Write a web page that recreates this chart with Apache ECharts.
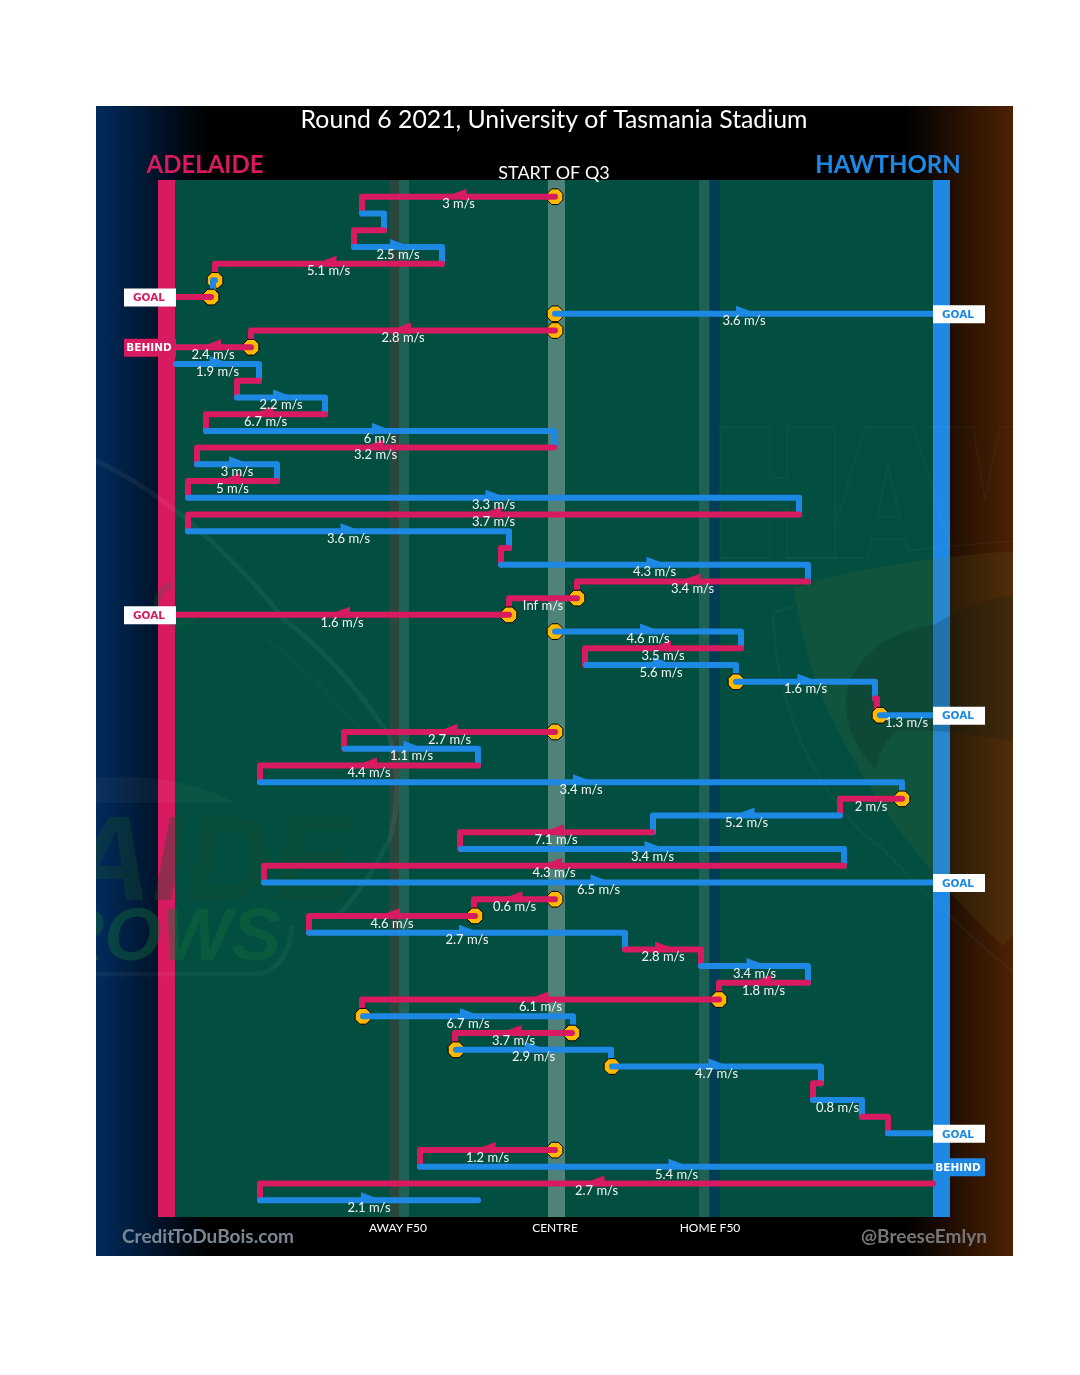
<!DOCTYPE html>
<html><head><meta charset="utf-8">
<style>html,body{margin:0;padding:0;background:#fff}#c{width:1080px;height:1375px}</style>
<script src="https://cdn.jsdelivr.net/npm/echarts@6/dist/echarts.min.js"></script>
</head><body><div id="c"></div>
<script>
const team=['A','H','A','H','A','H','A','H','A','A','H','A','H','A','H','A','H','A','H','A','H','A','H','A','A','A','H','A','H','H','A','H','A','H','A','H','A','H','A','H','A','H','A','A','H','A','H','A','A','H','A','H','H','A','H','A','H','A','H','A','H'];
const startX=[0,-193,-171,-201,-113,-340,-344,0,0,-304,-379,-296,-318,-230,-349,-1,-358,-278,-367,244,-367,-46,-54,253,22,-46,0,186,31,181,320,325,0,-210,-77,-295,347,285,97,-94,289,-291,0,-80,-246,70,146,253,164,-192,17,-99,57,266,258,307,333,0,-135,378,-295];
const endX=[-193,-171,-201,-113,-340,-342,-380,378,-304,-380,-296,-318,-230,-349,-1,-358,-278,-367,244,-367,-46,-54,253,22,-46,-380,186,30,181,320,322,378,-211,-77,-295,347,285,98,-95,289,-291,378,-81,-246,70,146,253,164,-193,18,-100,56,266,258,307,333,378,-135,378,-295,-77];
const speed=['3','','','2.5','5.1','','','3.6','2.8','2.4','1.9','','2.2','6.7','6','3.2','3','5','3.3','3.7','3.6','','4.3','3.4','Inf','1.6','4.6','3.5','5.6','1.6','','1.3','2.7','1.1','4.4','3.4','2','5.2','7.1','3.4','4.3','6.5','0.6','4.6','2.7','2.8','3.4','1.8','6.1','6.7','3.7','2.9','4.7','','0.8','','','1.2','5.4','2.7','2.1'];
const stopRows=[0,5,6,7,8,9,24,25,26,29,31,32,36,42,43,48,49,50,51,52,57];
const scoreRows=[6,7,9,25,31,41,56,58];
const scoreText=['GOAL','GOAL','BEHIND','GOAL','GOAL','GOAL','GOAL','BEHIND'];
const noStepRows=[6,7,9,25,31,41,56,58,60];
const zoneFrom=[-380,-397,378,-166,-156,-7,144,154.5];
const zoneTo=[378,-380,395,-156,-146,10,154.5,165];
const zoneColor=['#024E40','#D81B60','#1E88E5','#2A473E','#1F6155','#4F8278','#1F6155','#013E55'];
const tickValues=[-157,0,155];
const tickNames=['AWAY F50','CENTRE','HOME F50'];

const RED='#D81B60',BLUE='#1E88E5',GOLD='#FFB900';
const FONT='Lato, "Open Sans", sans-serif';
const col=t=>t==='A'?RED:BLUE;
const octagon=(c,r)=>{const p=[];for(let k=0;k<8;k++){const a=Math.PI/8+k*Math.PI/4;p.push([c[0]+r*Math.cos(a),c[1]+r*Math.sin(a)]);}return p;};

function renderChain(params,api){
  const i=api.value(2),s=api.coord([api.value(0),i]),e=api.coord([api.value(1),i]),kids=[];
  if(stopRows.includes(i)) kids.push({type:'polygon',shape:{points:octagon(s,8.5)},style:{fill:GOLD,stroke:'#000',lineWidth:1}});
  const pts=[s,e];
  if(!noStepRows.includes(i)) pts.push(api.coord([api.value(1),i+1]));
  kids.push({type:'polyline',shape:{points:pts},style:{stroke:col(team[i]),lineWidth:6,fill:null,lineJoin:'round',lineCap:'round'}});
  const len=Math.abs(e[0]-s[0]);
  if(len>=70){
    const d=e[0]>s[0]?1:-1,mx=(s[0]+e[0])/2,y=s[1];
    kids.push({type:'polygon',shape:{points:[[mx-8*d,y-8],[mx+8*d,y-2],[mx-8*d,y+4]]},style:{fill:col(team[i])}});
  }
  return {type:'group',children:kids};
}
function renderSpeed(params,api){
  const i=api.value(2); if(!speed[i]) return {type:'group',children:[]};
  const s=api.coord([(api.value(0)+api.value(1))/2,i]);
  return {type:'text',style:{x:s[0],y:s[1]+7.5,text:speed[i]+' m/s',fill:'#F2F6F5',font:'13px '+FONT,align:'center',verticalAlign:'middle'}};
}
function renderZone(params,api){
  const a=api.coord([api.value(0),-1]),b=api.coord([api.value(1),61]);
  return {type:'rect',shape:{x:a[0],y:a[1],width:b[0]-a[0],height:b[1]-a[1]},style:{fill:zoneColor[params.dataIndex]}};
}
function renderScore(params,api){
  const i=api.value(1),w=scoreText[params.dataIndex],c=api.coord([api.value(0),i]);
  const left=c[0]<500,x=left?124:933,goal=w==='GOAL',tc=col(team[i]);
  return {type:'group',children:[
    {type:'rect',shape:{x:x,y:c[1]-8.5,width:52,height:18},style:{fill:goal?'#fff':tc}},
    {type:'text',style:{x:x+25,y:c[1]+1.5,text:w,fill:goal?tc:'#fff',font:'bold 10.5px "DejaVu Sans"',align:'center',verticalAlign:'middle'}}
  ]};
}
const wmFill=(d,fill)=>({type:'path',shape:{pathData:d},style:{fill:fill,stroke:null}});
const wmLine=(d,stroke,w)=>({type:'path',shape:{pathData:d},style:{fill:null,stroke:stroke,lineWidth:w}});
const wmText=(t,x,y,size,fill)=>({type:'text',style:{x:x,y:y,text:t,fill:fill,font:'italic bold '+size+'px "Liberation Sans"',align:'right',verticalAlign:'middle'}});
function renderWatermark(){
  return {type:'group',children:[
    wmLine('M96 461 Q160 490 229 558 Q262 590 283 619 Q340 660 389 736 Q405 790 389 840 Q370 880 339 915','rgba(255,255,255,0.055)',5),
    wmLine('M263 637 Q313 673 363 733','rgba(255,255,255,0.02)',4),
    wmFill('M96 778 Q170 770 237 803 L96 803 Z','rgba(255,255,255,0.035)'),
    wmText('ADELAIDE',352,867,120,'rgba(20,80,50,0.35)'),
    wmText('CROWS',281,940,74,'rgba(20,110,60,0.42)'),
    wmLine('M96 974 L260 974 Q290 965 292 925','rgba(255,255,255,0.045)',5),
    wmLine('M172 585 A20 20 0 1 0 196 610','rgba(20,110,60,0.22)',6),
    wmLine('M720 427 L770 427 L770 478 L787 478 L787 427 L835 427 L835 558 L787 558 L787 505 L770 505 L770 558 L720 558 Z','rgba(255,255,255,0.035)',1.5),
    wmLine('M787 558 L867 558 L872 539 L905 539 L908 551 L950 546 L1013 541 M835 527 L865 427 L913 427 L950 545 M888 465 L900 517 L877 517 Z M925 427 L973 427 L985 499 L1000 427 L1013 427','rgba(255,255,255,0.035)',1.5),
    wmFill('M794 588 Q870 562 1013 551 L1013 935 L1003 946 Q900 850 840 735 Q805 670 794 588 Z','rgba(120,130,50,0.12)'),
    wmLine('M773 613 L794 606 M773 613 Q775 690 810 761 Q850 830 880 846 Q950 920 1013 972','rgba(255,255,255,0.035)',2),
    wmFill('M933 625 Q870 635 850 680 Q835 725 875 770 Q885 735 900 730 Q960 730 1013 742 L1013 595 Q975 600 933 625 Z','rgba(0,30,20,0.18)')
  ]};
}
const txt=(t,x,y,size,fill,weight,align)=>({type:'text',z:10,silent:true,style:{x:x,y:y,text:t,fill:fill,font:(weight||'normal')+' '+size+'px '+FONT,align:align||'center',verticalAlign:'middle'}});
const grad=(a,b)=>({type:'linear',x:0,y:0,x2:1,y2:0,colorStops:[{offset:0,color:a},{offset:1,color:b}]});
const cover=(x,w)=>({type:'rect',z:3,silent:true,shape:{x:x,y:400,width:w,height:700},style:{fill:'#fff'}});
const option={
  animation:false,backgroundColor:'#fff',
  grid:{left:158,right:130,top:180,bottom:158},
  xAxis:{type:'value',min:-397,max:395,splitLine:{show:false},axisLine:{show:false},axisTick:{show:false},
    axisLabel:{customValues:tickValues,color:'#fff',fontFamily:'Lato',fontSize:12,margin:5,formatter:v=>tickNames[tickValues.indexOf(v)]||''}},
  yAxis:{type:'value',inverse:true,min:-1,max:61,show:false},
  graphic:{elements:[
    {type:'rect',z:0,silent:true,shape:{x:96,y:106,width:917,height:1150},style:{fill:'#000'}},
    {type:'rect',z:0,silent:true,shape:{x:96,y:106,width:112,height:1150},style:{fill:grad('#002B5C','#000')}},
    {type:'rect',z:0,silent:true,shape:{x:905,y:106,width:108,height:1150},style:{fill:grad('#000','#4D2104')}},
    cover(0,96),cover(1013,67),
    txt('Round 6 2021, University of Tasmania Stadium',554,120.5,24.8,'#fff'),
    txt('ADELAIDE',205,165,24,RED,'bold'),
    txt('HAWTHORN',888,165,24,BLUE,'bold'),
    txt('START OF Q3',554,173,18,'#fff'),
    txt('CreditToDuBois.com',208,1237,19,'#7b8794','bold'),
    txt('@BreeseEmlyn',924,1237,19,'#777','bold')
  ]},
  series:[
    {type:'custom',z:1,silent:true,clip:false,renderItem:renderZone,encode:{x:[0,1]},data:zoneFrom.map((f,i)=>[f,zoneTo[i]])},
    {type:'custom',z:2,silent:true,clip:false,renderItem:renderWatermark,data:[[0,0]]},
    {type:'custom',z:5,silent:true,clip:false,renderItem:renderChain,encode:{x:[0,1],y:2},data:startX.map((v,i)=>[v,endX[i],i])},
    {type:'custom',z:7,silent:true,clip:false,renderItem:renderScore,encode:{x:0,y:1},data:scoreRows.map(r=>[endX[r],r])},
    {type:'custom',z:8,silent:true,clip:false,renderItem:renderSpeed,encode:{x:[0,1],y:2},data:startX.map((v,i)=>[v,endX[i],i])}
  ]
};
echarts.init(document.getElementById('c'),null,{renderer:'canvas'}).setOption(option);
</script></body></html>
